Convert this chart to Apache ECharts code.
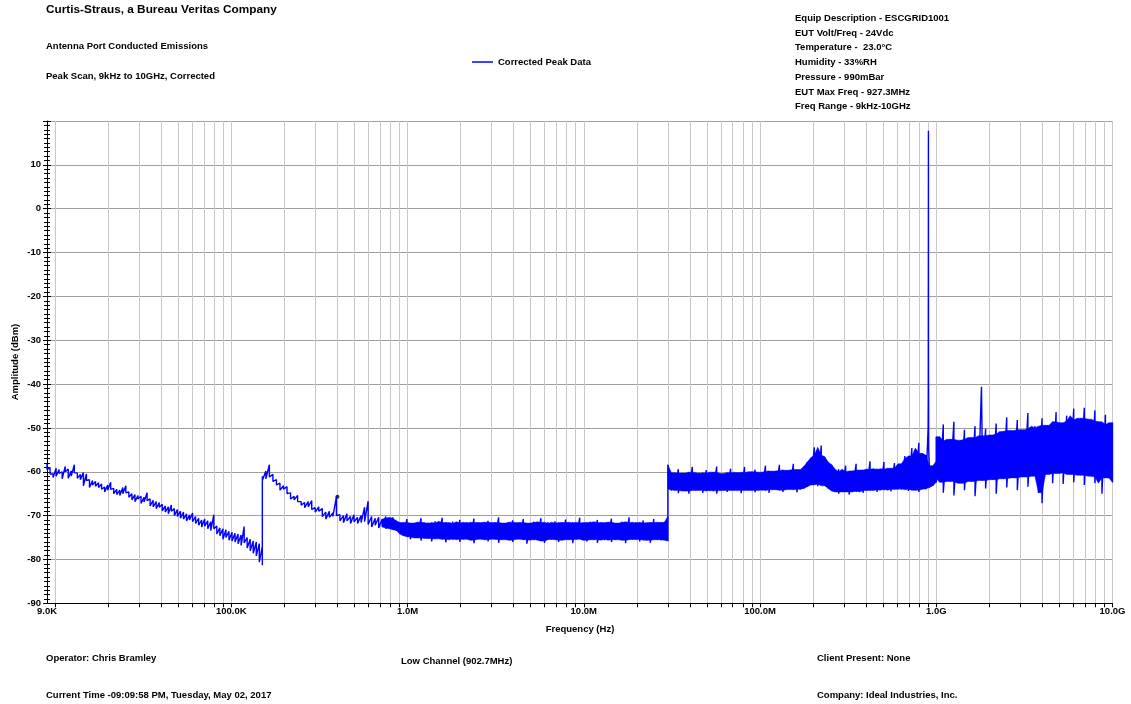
<!DOCTYPE html>
<html><head><meta charset="utf-8">
<script src="https://cdn.jsdelivr.net/npm/echarts@6/dist/echarts.min.js"></script>
<style>html,body{margin:0;padding:0;background:#fff}#c{width:1131px;height:704px}</style>
</head><body><div id="c"></div>
<script>
// Sweep segments (start/stop frequency in Hz); points are spread evenly in log frequency within each segment
const sweepStart = [9e3, 1.5e5, 3e7, 1e9];
const sweepStop  = [1.5e5, 3e7, 1e9, 1e10];

// Segment 1: 9 kHz - 150 kHz (upper / lower excursion of the trace at each sweep point)
const seg1Hi = [-58.2,-59.0,-60.5,-59.2,-59.5,-60.0,-58.8,-59.4,-59.8,-58.4,-60.3,-60.6,-60.2,-60.5,-61.8,-62.0,-62.2,-62.5,-62.8,-63.5,-63.0,-62.4,-63.8,-64.0,-64.2,-63.6,-63.2,-64.6,-65.0,-65.2,-65.4,-65.6,-65.8,-64.8,-66.2,-66.5,-66.8,-67.0,-67.4,-67.8,-68.0,-67.6,-68.4,-68.6,-69.0,-69.2,-69.6,-69.8,-69.4,-70.2,-70.6,-71.0,-70.8,-71.2,-71.4,-69.8,-72.4,-72.8,-73.0,-73.2,-73.6,-73.8,-74.0,-74.2,-74.4,-72.5,-75.0,-75.4,-75.8,-76.0,-76.4,-77.0];
const seg1Lo = [-59.5,-60.5,-61.3,-61.0,-60.4,-61.6,-60.0,-61.5,-61.0,-60.2,-61.5,-61.8,-63.2,-62.0,-63.6,-63.0,-63.3,-63.6,-64.0,-64.6,-64.2,-64.0,-65.0,-65.2,-65.4,-65.0,-64.8,-65.8,-66.4,-66.8,-66.2,-67.2,-66.9,-66.6,-67.8,-68.0,-68.4,-68.1,-68.9,-69.2,-69.6,-69.0,-70.0,-70.2,-70.6,-70.8,-71.2,-71.0,-71.4,-71.8,-72.2,-72.6,-72.4,-73.0,-73.4,-73.0,-74.2,-74.6,-75.4,-75.0,-75.6,-75.8,-76.0,-76.4,-76.8,-76.2,-77.4,-78.0,-78.6,-79.2,-80.6,-81.3];

// Segment 2: 150 kHz - 30 MHz
const seg2Hi = [-61.0,-59.8,-58.4,-60.6,-61.8,-62.6,-63.2,-63.4,-64.8,-65.6,-65.4,-66.8,-67.0,-66.8,-66.6,-68.2,-68.0,-68.4,-69.2,-69.0,-69.4,-65.7,-69.8,-70.0,-69.6,-70.2,-69.8,-70.4,-70.0,-68.1,-66.7,-70.2,-70.6,-70.4,-70.8,-70.2,-70.6,-70.4,
  -71.2,-71.8,-71.6,-70.8,-71.9,-71.7,-71.5,-70.6,-71.8,-71.6,-71.9,-71.3,-71.7,-70.5,-71.6,-71.8,-71.4,-71.9,-71.0,-71.7,
  -71.5,-71.8,-70.7,-71.6,-71.9,-71.5,-71.2,-71.8,-71.6,-70.4,-71.7,-71.9,-71.5,-71.1,-71.8,-71.6,-70.8,-71.7,-71.9,-71.4,
  -71.6,-70.6,-71.8,-71.5,-71.9,-71.3,-71.7,-71.6,-70.9,-71.8,-71.5,-71.7,-70.5,-71.9,-71.6,-71.4,-71.8,-71.0,-71.6,-71.9,
  -71.5,-70.7,-71.7,-71.8,-71.4,-71.6,-70.4,-71.9,-71.5,-71.7,-71.1,-71.8,-71.6,-70.8,-71.7,-71.5,-71.6,-70.2];
const seg2Lo = [-62.0,-61.6,-61.2,-62.2,-63.0,-64.2,-64.0,-65.0,-66.2,-66.4,-66.8,-67.6,-68.2,-68.0,-68.6,-69.2,-69.0,-70.2,-70.8,-70.4,-70.2,-70.0,-71.2,-71.6,-71.2,-71.8,-71.4,-71.8,-71.6,-71.4,-72.0,-72.6,-72.2,-72.8,-72.6,-73.0,-72.8,-73.2,
  -73.4,-74.2,-74.6,-74.8,-75.4,-74.9,-75.1,-75.7,-75.0,-75.2,-75.9,-75.3,-75.1,-75.4,-76.1,-75.2,-75.5,-75.3,-76.0,-75.4,
  -75.2,-75.6,-76.3,-75.4,-75.3,-75.5,-75.9,-75.2,-75.4,-76.2,-75.5,-75.3,-75.6,-76.0,-75.4,-75.2,-75.5,-76.4,-75.3,-75.6,
  -75.4,-75.8,-76.2,-75.3,-75.5,-75.4,-76.0,-75.6,-75.3,-75.5,-76.3,-75.4,-75.2,-75.6,-75.9,-75.4,-75.5,-76.2,-75.3,-75.6,
  -75.4,-76.0,-75.5,-75.3,-75.6,-76.3,-75.4,-75.5,-75.2,-75.9,-75.4,-75.6,-76.2,-75.3,-75.5,-75.6,-75.4,-75.8];

// Segment 3: 30 MHz - 1 GHz
const seg3Hi = [-58.4,-60.2,-60.5,-59.4,-60.3,-60.6,-60.1,-58.9,-60.4,-60.2,-60.5,-59.6,-60.3,-60.1,-58.8,-60.4,-60.6,-60.2,-59.3,-60.3,
  -60.1,-60.4,-58.9,-60.2,-60.0,-59.5,-60.3,-60.1,-58.6,-59.9,-59.8,-60.0,-58.4,-59.7,-59.6,-59.9,-58.2,-59.5,-59.7,-58.8,
  -57.8,-56.8,-54.4,-56.2,-54.0,-56.6,-57.8,-58.4,-60.0,-59.4,-60.2,-58.6,-60.0,-59.8,-58.2,-59.6,-59.9,-59.4,-57.6,-59.5,
  -59.3,-59.6,-57.8,-59.4,-59.2,-58.0,-59.3,-58.2,-56.4,-57.0,-54.6,-56.4,-53.4,-55.8,-56.2,-58.6,-59.0,-57.6];
const seg3Lo = [-64.0,-64.3,-64.1,-64.9,-64.2,-64.4,-65.0,-64.1,-64.3,-64.2,-64.8,-64.2,-64.4,-64.1,-65.0,-64.3,-64.2,-64.6,-64.1,-64.3,
  -64.2,-64.9,-64.1,-64.3,-64.2,-64.7,-64.1,-64.3,-64.0,-64.8,-64.1,-64.0,-64.2,-64.6,-63.9,-64.1,-64.0,-64.7,-64.0,-63.8,
  -63.4,-63.0,-62.8,-63.3,-62.6,-63.2,-63.8,-64.4,-64.6,-65.0,-64.5,-64.6,-65.2,-64.4,-64.6,-64.3,-64.8,-64.2,-64.3,-64.1,
  -64.6,-64.0,-64.2,-63.9,-64.5,-64.0,-63.8,-64.1,-63.9,-64.4,-64.0,-64.2,-64.6,-63.9,-64.0,-63.6,-63.2,-62.4];

// Segment 4: 1 GHz - 10 GHz
const seg4Hi = [-52.0,-53.4,-49.2,-53.0,-52.6,-48.6,-53.2,-52.8,-50.4,-52.6,-52.2,-49.6,-52.4,-51.8,-50.2,-52.0,-51.6,-49.0,-51.4,-50.8,
  -47.6,-50.6,-50.9,-48.2,-50.4,-50.6,-46.6,-50.2,-49.6,-50.0,-47.8,-49.4,-49.8,-48.6,-46.4,-48.8,-49.0,-47.2,-48.4,-45.6,
  -48.2,-47.8,-45.4,-48.0,-48.4,-46.0,-48.6,-49.2,-47.0,-49.4,-48.8];
const seg4Lo = [-61.6,-62.4,-64.8,-61.8,-62.2,-65.4,-61.9,-62.6,-64.2,-61.8,-62.2,-65.6,-61.6,-62.0,-63.8,-61.4,-61.8,-65.0,-61.2,-61.6,
  -63.6,-61.0,-61.4,-64.2,-60.8,-61.2,-63.4,-60.6,-61.0,-64.8,-67.2,-60.6,-60.2,-62.6,-60.4,-60.0,-62.8,-60.2,-60.6,-62.4,
  -60.4,-60.8,-63.0,-60.6,-61.0,-62.6,-61.2,-65.0,-61.4,-61.0,-62.4];

// Narrow spikes (carrier at 902.7 MHz and its 2nd harmonic)
const spikeFreq  = [8.99e8, 9.01e8, 9.027e8, 9.035e8, 9.06e8, 1.805e9];
const spikeLevel = [-50.0, -42.0, 17.8, -33.0, -55.0, -40.6];

// Marker point
const markerFreq  = [4.0e5];
const markerLevel = [-65.7];

// Axis labels / ticks
const xLabelValues = [9e3, 1e5, 1e6, 1e7, 1e8, 1e9, 1e10];
const xLabelText   = ['9.0K', '100.0K', '1.0M', '10.0M', '100.0M', '1.0G', '10.0G'];
const xGridMult    = [1, 2, 3, 4, 5, 6, 7, 8, 9];
const xGridDecades = [1e4, 1e5, 1e6, 1e7, 1e8, 1e9];
const yMin = -90, yMax = 20, yStep = 10;

// Rendering config: index from which each segment is drawn as a solid band (-1 = line only)
const bandFrom = [-1, 34, 0, 0];

const FONT = '"Liberation Sans", Arial, sans-serif';
const BLUE = '#0000ff';

const segHi = [seg1Hi, seg2Hi, seg3Hi, seg4Hi];
const segLo = [seg1Lo, seg2Lo, seg3Lo, seg4Lo];
function sweepFreqs(k, n) {
  const a = Math.log10(sweepStart[k]), b = Math.log10(sweepStop[k]);
  const out = [];
  for (let i = 0; i < n; i++) out.push(Math.pow(10, a + (b - a) * i / (n - 1)));
  return out;
}
const segF = segHi.map((h, k) => sweepFreqs(k, h.length));

// Trace: alternates between upper and lower excursion at each sweep point
let trace = [];
segF.forEach((fs, k) => fs.forEach((f, i) => { trace.push([f, segHi[k][i]]); trace.push([f, segLo[k][i]]); }));
spikeFreq.forEach((f, i) => trace.push([f, spikeLevel[i]]));
trace = trace.map((p, i) => [p, i]).sort((a, b) => (a[0][0] - b[0][0]) || (a[1] - b[1])).map(p => p[0]);

const xTickValues = [];
xGridDecades.forEach(d => xGridMult.forEach(m => xTickValues.push(m * d)));
xTickValues.push(1e10);

function xFmt(v) {
  for (let i = 0; i < xLabelValues.length; i++) {
    if (Math.abs(v - xLabelValues[i]) / xLabelValues[i] < 1e-3) return xLabelText[i];
  }
  return '';
}
const med3 = (a, b, c) => Math.max(Math.min(a, b), Math.min(Math.max(a, b), c));

const txt = (x, y, s, size, extra) => Object.assign({
  type: 'text', x: x, y: y, silent: true,
  style: { text: s, font: 'bold ' + size + 'px ' + FONT, fill: '#000', align: 'left', verticalAlign: 'middle' }
}, extra || {});

const rightInfo = ['Equip Description - ESCGRID1001', 'EUT Volt/Freq - 24Vdc', 'Temperature -  23.0°C', 'Humidity - 33%RH', 'Pressure - 990mBar', 'EUT Max Freq - 927.3MHz', 'Freq Range - 9kHz-10GHz'];

const graphics = [
  txt(46, 10, 'Curtis-Straus, a Bureau Veritas Company', 11.8),
  txt(46, 46.5, 'Antenna Port Conducted Emissions', 9.5),
  txt(46, 76.5, 'Peak Scan, 9kHz to 10GHz, Corrected', 9.5),
  txt(46, 658, 'Operator: Chris Bramley', 9.5),
  txt(401, 661, 'Low Channel (902.7MHz)', 9.5),
  txt(817, 658, 'Client Present: None', 9.5),
  txt(46, 695, 'Current Time -09:09:58 PM, Tuesday, May 02, 2017', 9.5),
  txt(817, 695, 'Company: Ideal Industries, Inc.', 9.5),
  { type: 'text', x: 580, y: 629, silent: true, style: { text: 'Frequency (Hz)', font: 'bold 9.5px ' + FONT, fill: '#000', align: 'center', verticalAlign: 'middle' } },
  { type: 'text', x: 15, y: 362, rotation: Math.PI / 2, silent: true, style: { text: 'Amplitude (dBm)', font: 'bold 9.5px ' + FONT, fill: '#000', align: 'center', verticalAlign: 'middle' } }
];
rightInfo.forEach((s, i) => graphics.push(txt(795, 18.2 + i * 14.75, s, 9.5)));

const chart = echarts.init(document.getElementById('c'), null, { renderer: 'canvas' });
chart.setOption({
  animation: false,
  backgroundColor: '#fff',
  grid: { left: 47, right: 18.5, top: 121, bottom: 100.7, containLabel: false },
  legend: {
    data: ['Corrected Peak Data'], left: 472, top: 57, padding: 0, icon: 'rect', itemWidth: 21, itemHeight: 1.5,
    textStyle: { fontFamily: FONT, fontSize: 9.5, fontWeight: 'bold', color: '#000' }
  },
  graphic: graphics,
  xAxis: {
    type: 'log', logBase: 10, min: 9e3, max: 1e10,
    axisLine: { show: true, onZero: false, lineStyle: { color: '#000', width: 1 } },
    axisTick: { show: true, length: 4, lineStyle: { color: '#000' }, customValues: xTickValues },
    axisLabel: { customValues: xLabelValues, formatter: xFmt, fontFamily: FONT, fontSize: 9.5, fontWeight: 'bold', color: '#000', margin: 3.5, showMinLabel: true, showMaxLabel: true },
    splitLine: { show: true, lineStyle: { color: '#c8c8c8', width: 1 } }
  },
  yAxis: [{
    type: 'value', min: yMin, max: yMax, interval: yStep,
    axisLine: { show: true, onZero: false, lineStyle: { color: '#000', width: 1 } },
    axisTick: { show: true, length: 4, lineStyle: { color: '#000' } },
    minorTick: { show: true, splitNumber: 10, length: 3, lineStyle: { color: '#000' } },
    axisLabel: { formatter: v => (v === yMax ? '' : String(v)), fontFamily: FONT, fontSize: 9.5, fontWeight: 'bold', color: '#000', margin: 6 },
    splitLine: { show: true, lineStyle: { color: '#a0a0a0', width: 1 } }
  }, {
    type: 'value', min: yMin, max: yMax, interval: yStep, position: 'left',
    axisLine: { show: false, onZero: false },
    axisTick: { show: true, inside: true, length: 4, lineStyle: { color: '#000' } },
    minorTick: { show: true, splitNumber: 10, length: 3, lineStyle: { color: '#000' } },
    axisLabel: { show: false },
    splitLine: { show: false }
  }],
  series: [{
    type: 'custom', name: 'band', coordinateSystem: 'cartesian2d', silent: true,
    data: segF.map((fs, k) => [fs[0], segHi[k][0], k]).filter((d, k) => bandFrom[k] >= 0),
    encode: { x: 0, y: 1 },
    renderItem: function (params, api) {
      const k = api.value(2), fs = segF[k], hi = segHi[k], lo = segLo[k];
      const s = bandFrom[k], e = fs.length - 1, top = [], bot = [];
      for (let i = s; i <= e; i++) {
        const a = Math.max(s, i - 1), b = Math.min(e, i + 1);
        let t = med3(hi[a], hi[i], hi[b]), u = med3(lo[a], lo[i], lo[b]);
        if (t < u) { const m = (t + u) / 2; t = m; u = m; }
        top.push(api.coord([fs[i], t]));
        bot.push(api.coord([fs[i], u]));
      }
      const pts = top.concat(bot.reverse());
      return { type: 'polygon', shape: { points: pts }, style: { fill: BLUE, stroke: BLUE, lineWidth: 0.5 } };
    }
  }, {
    type: 'line', name: 'Corrected Peak Data', data: trace, showSymbol: false, symbol: 'none',
    sampling: null, lineStyle: { color: BLUE, width: 1.4 }, itemStyle: { color: BLUE }, silent: true
  }, {
    type: 'scatter', name: 'marker', data: markerFreq.map((f, i) => [f, markerLevel[i]]),
    symbol: 'circle', symbolSize: 4, itemStyle: { color: '#000' }, silent: true
  }]
});
</script></body></html>
